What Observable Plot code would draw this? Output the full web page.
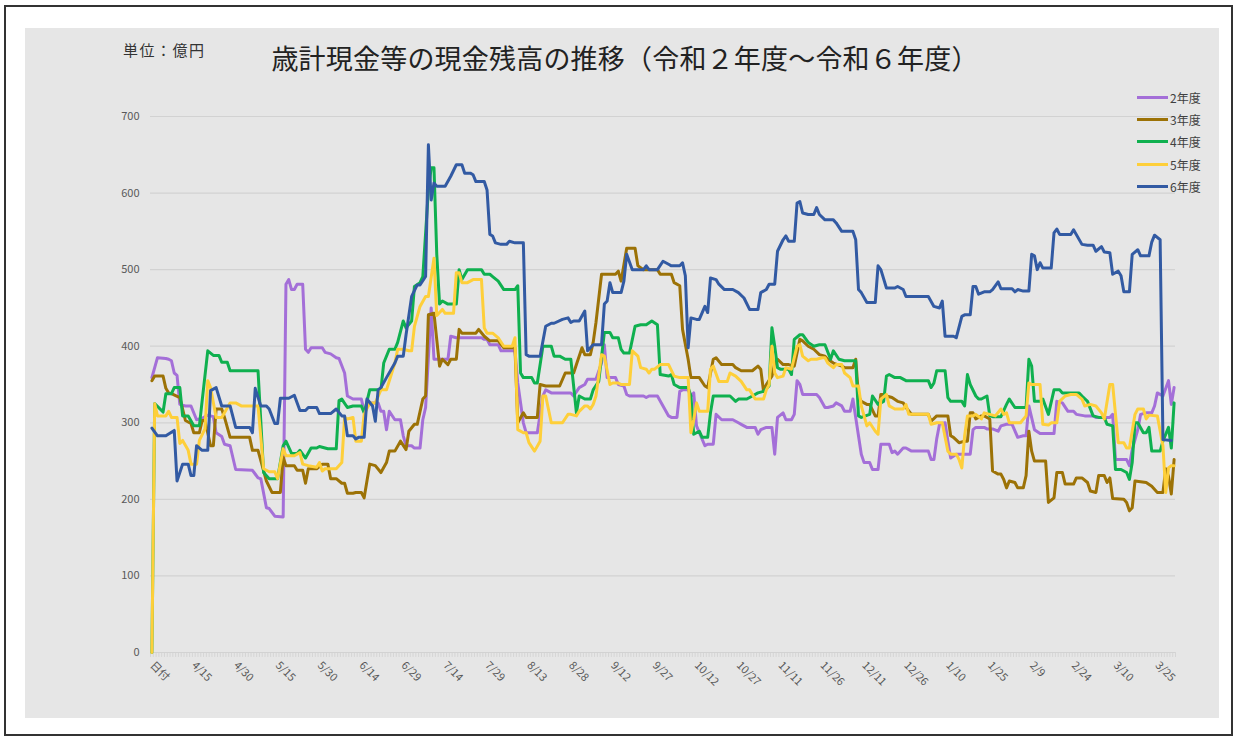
<!DOCTYPE html>
<html><head><meta charset="utf-8">
<script src="https://cdn.jsdelivr.net/npm/d3@7"></script>
<script src="https://cdn.jsdelivr.net/npm/@observablehq/plot@0.6"></script>
<style>
body{margin:0;background:#fff;width:1237px;height:740px;position:relative;overflow:hidden;font-family:'Noto Sans CJK JP','Noto Sans',sans-serif;}
#frame{position:absolute;left:4px;top:5px;width:1229px;height:731px;border:2px solid #333;box-sizing:border-box;}
#panel{position:absolute;left:25px;top:28px;width:1194px;height:690px;background:#e6e6e6;}
#chart{position:absolute;left:0;top:0;}
#title{position:absolute;left:0;width:1200px;top:15px;text-align:center;font-size:27px;letter-spacing:0.2px;line-height:30px;color:#222;white-space:nowrap;}
#unit{position:absolute;left:98px;top:12px;font-size:15px;line-height:20px;color:#333;letter-spacing:1.5px;}
#legend{position:absolute;left:1112px;top:58px;}
.li{height:22.3px;display:flex;align-items:center;font-size:12px;color:#404040;}
.sw{width:31px;height:3px;margin-right:2px;}
</style></head>
<body>
<div id="frame"></div>
<div id="panel">
  <div id="chart"></div>
  <div id="unit">単位：億円</div>
  <div id="title">歳計現金等の現金残高の推移（令和２年度～令和６年度）</div>
  <div id="legend"></div>
</div>
<script>
const seriesNames = ["2年度","3年度","4年度","5年度","6年度"];
const seriesColors = ["#a46fd8","#9c7206","#0fb04f","#fecf3a","#325aa3"];
const xLabels = ["日付","4/15","4/30","5/15","5/30","6/14","6/29","7/14","7/29","8/13","8/28","9/12","9/27","10/12","10/27","11/11","11/26","12/11","12/26","1/10","1/25","2/9","2/24","3/10","3/25"];
const yTicks = [0,100,200,300,400,500,600,700];

// [day index (0 = 日付, 1 = 4/1 ...), 億円]
const s2 = [[0,359],[2,385],[5,384],[6,383],[7,381],[8,365],[9,362],[10,324],[12,322],[14,322],[16,304],[18,306],[20,310],[22,308],[23,287],[25,282],[26,272],[28,270],[30,239],[36,238],[38,228],[39,227],[41,189],[42,188],[44,178],[47,177],[48,481],[49,487],[50,474],[51,474],[52,481],[54,481],[55,396],[56,392],[57,398],[61,398],[62,392],[64,390],[66,385],[67,384],[69,365],[70,335],[72,331],[75,331],[76,315],[78,326],[81,326],[82,315],[83,315],[84,291],[85,315],[87,304],[89,304],[90,283],[91,270],[93,270],[94,267],[96,267],[97,304],[98,320],[100,450],[101,383],[106,383],[107,413],[109,411],[118,411],[119,409],[120,409],[121,402],[124,402],[125,394],[130,394],[131,352],[133,300],[134,287],[138,287],[140,335],[141,343],[143,339],[150,339],[151,335],[153,346],[155,350],[156,357],[159,357],[161,378],[162,402],[163,359],[166,359],[167,350],[169,348],[170,337],[171,335],[176,335],[177,333],[178,335],[181,335],[183,322],[185,309],[186,307],[188,307],[189,341],[190,343],[192,343],[193,335],[194,339],[195,296],[198,270],[199,272],[201,272],[202,311],[204,304],[208,304],[210,300],[211,298],[213,294],[216,294],[217,285],[218,291],[220,294],[222,294],[223,259],[224,307],[226,313],[227,304],[229,304],[230,311],[231,355],[232,350],[233,337],[238,337],[239,333],[241,320],[242,320],[244,322],[245,326],[247,322],[248,315],[250,315],[251,331],[252,307],[254,259],[255,248],[257,248],[258,239],[260,239],[261,272],[264,272],[265,261],[266,263],[267,259],[269,267],[270,267],[272,263],[278,263],[279,252],[280,252],[281,279],[282,298],[284,300],[285,276],[286,254],[288,259],[293,259],[294,291],[295,294],[298,294],[299,292],[301,292],[303,289],[304,296],[306,298],[308,298],[310,281],[312,283],[313,283],[314,322],[316,291],[318,286],[323,286],[324,328],[326,326],[328,315],[330,315],[331,311],[334,309],[337,309],[338,307],[343,307],[344,311],[345,252],[349,252],[350,244],[351,265],[353,291],[354,311],[356,313],[358,313],[359,322],[360,339],[362,335],[364,355],[365,324],[366,346]];

const s3 = [[0,355],[1,361],[4,361],[5,345],[6,339],[7,338],[10,333],[12,303],[14,299],[15,287],[17,287],[18,303],[19,303],[21,270],[22,270],[23,318],[25,318],[26,307],[28,281],[35,281],[36,264],[38,264],[41,224],[43,209],[46,209],[47,255],[48,244],[51,244],[52,238],[54,238],[55,221],[56,240],[59,240],[61,246],[63,246],[64,227],[66,227],[68,221],[69,221],[70,208],[72,208],[73,209],[75,209],[76,202],[78,246],[80,244],[82,235],[84,248],[85,263],[87,263],[89,276],[91,265],[92,289],[94,298],[95,298],[97,331],[98,335],[99,441],[101,443],[103,374],[104,383],[106,376],[107,383],[109,383],[110,422],[111,417],[116,417],[117,422],[119,413],[121,407],[124,407],[126,398],[130,398],[131,300],[133,313],[134,307],[138,307],[139,350],[141,348],[146,348],[148,365],[151,365],[152,376],[154,398],[155,389],[157,389],[158,405],[159,431],[161,494],[166,494],[167,498],[168,485],[170,528],[173,528],[174,505],[176,500],[181,500],[182,494],[186,494],[187,483],[189,479],[190,422],[192,383],[193,359],[196,359],[198,348],[199,346],[201,383],[202,385],[204,376],[208,376],[209,372],[211,368],[215,368],[217,374],[218,370],[219,341],[220,350],[222,361],[223,378],[224,383],[226,376],[228,376],[230,374],[232,409],[233,407],[235,400],[237,396],[239,389],[241,387],[242,383],[244,378],[247,374],[248,372],[251,372],[252,383],[253,335],[254,328],[256,324],[257,324],[259,309],[260,309],[261,337],[262,337],[263,335],[265,333],[267,328],[269,326],[270,320],[272,311],[278,311],[279,302],[281,309],[285,309],[286,283],[287,281],[289,274],[291,276],[292,276],[293,313],[294,313],[295,305],[297,309],[298,309],[300,305],[301,237],[303,233],[304,233],[305,226],[306,215],[307,224],[309,222],[310,215],[312,215],[313,231],[314,289],[315,263],[316,250],[320,250],[321,196],[323,202],[324,235],[326,235],[327,220],[330,220],[331,228],[333,228],[335,222],[336,211],[338,209],[339,231],[341,231],[342,222],[343,228],[344,201],[348,200],[349,196],[350,185],[351,189],[352,224],[356,222],[358,217],[360,209],[362,209],[363,240],[364,230],[365,207],[366,252]];

const s4 = [[0,0],[1,325],[4,314],[5,338],[7,338],[8,346],[10,346],[11,309],[13,309],[15,296],[17,296],[18,329],[20,394],[22,388],[24,388],[25,379],[27,379],[28,368],[38,368],[40,235],[42,227],[45,227],[47,270],[48,276],[50,260],[52,260],[53,264],[55,254],[57,267],[59,267],[60,269],[63,266],[66,266],[67,329],[68,331],[70,320],[72,322],[75,322],[76,313],[78,343],[82,343],[83,378],[85,396],[87,396],[88,405],[90,433],[91,424],[93,433],[94,478],[96,483],[97,491],[99,604],[100,633],[101,633],[102,520],[103,455],[104,459],[106,455],[109,455],[110,500],[111,487],[113,500],[118,500],[119,494],[121,494],[122,491],[124,485],[126,474],[130,474],[131,479],[132,365],[133,359],[136,359],[137,352],[138,352],[140,400],[143,400],[144,387],[146,387],[148,383],[150,383],[152,313],[153,335],[155,331],[157,331],[158,343],[160,354],[162,418],[164,418],[165,411],[167,411],[168,396],[169,391],[171,391],[173,426],[175,428],[177,428],[179,433],[181,428],[182,363],[185,361],[186,363],[187,350],[189,346],[192,346],[193,335],[194,285],[196,289],[197,281],[199,281],[200,313],[201,335],[207,335],[209,328],[210,331],[213,331],[215,335],[217,339],[219,341],[221,348],[222,424],[223,400],[224,372],[225,370],[228,370],[229,363],[230,409],[232,415],[233,415],[235,405],[237,400],[239,402],[241,402],[243,383],[244,394],[246,383],[248,381],[252,381],[253,309],[254,307],[257,311],[258,335],[260,324],[262,328],[263,361],[264,363],[266,359],[268,359],[270,355],[278,355],[279,346],[280,352],[281,368],[284,368],[285,333],[286,328],[290,328],[291,322],[292,363],[293,350],[295,335],[296,331],[297,331],[299,335],[300,309],[301,308],[304,308],[306,324],[307,331],[309,320],[313,320],[314,383],[315,374],[316,328],[318,328],[319,331],[321,311],[323,343],[325,343],[326,339],[332,339],[333,335],[335,328],[337,309],[339,307],[341,307],[342,298],[344,296],[345,239],[347,239],[349,235],[350,226],[351,248],[352,300],[353,300],[355,287],[356,287],[357,294],[358,263],[361,263],[362,276],[364,294],[365,267],[366,326]];

const s5 = [[0,0],[1,325],[2,309],[5,309],[6,315],[7,307],[9,307],[10,273],[11,277],[13,264],[14,246],[16,246],[17,277],[19,292],[20,355],[21,346],[23,307],[25,307],[28,326],[30,326],[32,322],[38,322],[40,240],[42,236],[44,236],[45,227],[47,266],[48,257],[51,257],[53,261],[54,246],[56,244],[59,242],[60,248],[61,237],[62,240],[66,240],[68,248],[69,307],[70,305],[72,307],[73,276],[75,276],[76,311],[78,326],[80,326],[82,343],[84,343],[87,378],[88,396],[90,396],[92,394],[93,394],[94,426],[96,452],[98,465],[99,465],[101,515],[102,440],[104,448],[105,443],[108,443],[109,496],[110,496],[111,483],[113,483],[115,487],[118,487],[119,424],[120,417],[122,417],[124,411],[126,400],[129,400],[130,411],[131,291],[133,287],[134,287],[135,274],[137,263],[139,276],[140,335],[141,335],[143,300],[147,300],[149,311],[150,311],[152,309],[153,315],[155,322],[156,322],[157,318],[158,324],[159,335],[161,389],[162,387],[164,350],[165,352],[167,352],[168,350],[171,350],[172,394],[174,387],[175,372],[177,370],[178,365],[179,370],[180,370],[182,376],[185,376],[187,361],[189,359],[192,359],[193,287],[194,304],[195,326],[196,315],[199,315],[200,370],[201,374],[203,354],[206,354],[207,365],[209,361],[211,354],[213,343],[214,343],[216,331],[219,331],[220,343],[221,350],[222,400],[223,365],[224,359],[226,361],[227,372],[229,370],[231,400],[232,402],[233,387],[235,381],[236,383],[238,383],[240,385],[241,385],[242,378],[244,372],[245,376],[247,376],[248,365],[250,359],[251,348],[253,348],[254,322],[256,296],[257,300],[259,289],[260,285],[261,331],[263,337],[264,322],[266,318],[269,318],[270,324],[271,311],[278,311],[279,298],[281,300],[283,300],[285,263],[286,259],[288,259],[289,252],[290,241],[291,283],[292,309],[294,309],[295,311],[297,305],[298,313],[300,311],[302,309],[304,318],[305,311],[306,313],[307,300],[311,300],[313,309],[314,352],[315,350],[318,350],[319,298],[321,297],[322,300],[324,300],[325,328],[327,335],[329,337],[331,337],[333,331],[334,322],[336,324],[338,322],[340,313],[341,305],[343,350],[344,350],[346,274],[348,274],[349,267],[350,267],[352,311],[353,318],[355,318],[356,305],[357,310],[360,309],[362,270],[363,209],[364,241],[365,244],[366,244]];

const s6 = [[0,293],[2,283],[5,283],[8,290],[9,224],[11,246],[13,246],[14,231],[15,231],[16,270],[18,264],[20,264],[21,342],[23,346],[25,322],[28,322],[30,294],[35,294],[36,287],[37,345],[39,322],[41,322],[42,318],[44,299],[45,299],[46,332],[49,332],[51,336],[53,316],[55,316],[56,320],[59,320],[60,312],[64,312],[66,318],[68,309],[69,309],[70,283],[72,283],[73,279],[74,281],[76,281],[77,331],[79,322],[80,302],[81,343],[82,346],[84,359],[87,378],[88,387],[90,387],[91,415],[93,465],[95,480],[96,480],[98,491],[99,663],[100,591],[101,613],[102,609],[105,609],[107,622],[109,637],[111,637],[112,626],[114,626],[115,624],[116,615],[119,615],[120,604],[121,546],[122,544],[123,535],[125,533],[127,533],[128,537],[130,535],[133,535],[134,389],[135,387],[139,387],[141,426],[143,430],[144,430],[147,435],[149,437],[150,431],[151,433],[153,433],[155,446],[156,394],[158,402],[161,402],[162,455],[163,459],[164,483],[165,470],[168,470],[169,485],[170,520],[172,500],[176,500],[177,505],[178,500],[181,500],[183,511],[185,507],[186,505],[189,505],[190,509],[191,492],[192,398],[193,437],[195,435],[196,435],[198,452],[199,444],[200,489],[202,487],[203,481],[205,474],[208,474],[210,470],[212,463],[214,448],[217,448],[218,470],[220,474],[221,481],[223,481],[224,524],[226,539],[227,544],[228,537],[230,537],[231,587],[232,589],[233,574],[235,572],[237,572],[238,581],[239,572],[241,565],[244,565],[245,561],[247,550],[251,550],[252,539],[253,474],[254,470],[256,457],[259,457],[260,505],[261,500],[263,476],[266,476],[267,478],[269,474],[270,465],[278,465],[280,452],[282,450],[283,459],[284,413],[287,413],[288,411],[290,439],[291,441],[293,441],[294,478],[295,478],[296,468],[298,471],[300,471],[301,474],[303,484],[304,475],[308,475],[309,471],[310,474],[312,472],[314,472],[315,520],[316,518],[317,500],[318,509],[319,502],[322,502],[323,548],[324,553],[325,546],[329,546],[330,552],[333,533],[335,532],[337,532],[338,524],[340,530],[341,523],[343,522],[344,494],[346,498],[347,492],[348,471],[350,471],[351,520],[353,526],[354,518],[357,518],[358,536],[359,545],[361,539],[362,278],[365,277]];

const seriesData = [s2, s3, s4, s5, s6];
const table = seriesData.flatMap((s, i) => s.map(([day, value]) => ({series: seriesNames[i], day, value})));
const tickDays = xLabels.map((_, i) => i * 15);
const categoryEdges = d3.range(0, 368).map(d => d - 0.5);

const chart = Plot.plot({
  width: 1194, height: 690,
  marginLeft: 125, marginRight: 44, marginTop: 88, marginBottom: 66,
  style: {background: "transparent", fontFamily: "'Noto Sans CJK JP','Noto Sans',sans-serif", fontSize: "11px", color: "#595959"},
  x: {domain: [-0.5, 366.5], label: null},
  y: {domain: [0, 700], label: null},
  color: {domain: seriesNames, range: seriesColors},
  marks: [
    Plot.gridY(yTicks.filter(d => d > 0), {stroke: "#d2d2d2", strokeOpacity: 1, strokeWidth: 1.2}),
    Plot.ruleX(categoryEdges, {x: d => d, y1: 0, y2: -6.5, stroke: "#d0d0d0", strokeWidth: 0.8}),
    Plot.ruleY([0], {stroke: "#d2d2d2", strokeWidth: 1.2}),
    Plot.axisY(yTicks, {tickSize: 0, tickPadding: 11, fill: "#595959", fontSize: 11, label: null}),
    Plot.axisX(tickDays, {tickSize: 0, tickPadding: 11, tickRotate: 45, tickFormat: d => xLabels[Math.round(d / 15)], fill: "#595959", fontSize: 11, label: null}),
    Plot.line(table, {x: "day", y: "value", z: "series", stroke: "series", strokeWidth: 3, strokeLinejoin: "round", strokeLinecap: "round"})
  ]
});
document.getElementById("chart").appendChild(chart);

const legend = document.getElementById("legend");
seriesNames.forEach((name, i) => {
  const row = document.createElement("div");
  row.className = "li";
  row.innerHTML = `<span class="sw" style="background:${seriesColors[i]}"></span><span>${name}</span>`;
  legend.appendChild(row);
});
</script>
</body></html>
